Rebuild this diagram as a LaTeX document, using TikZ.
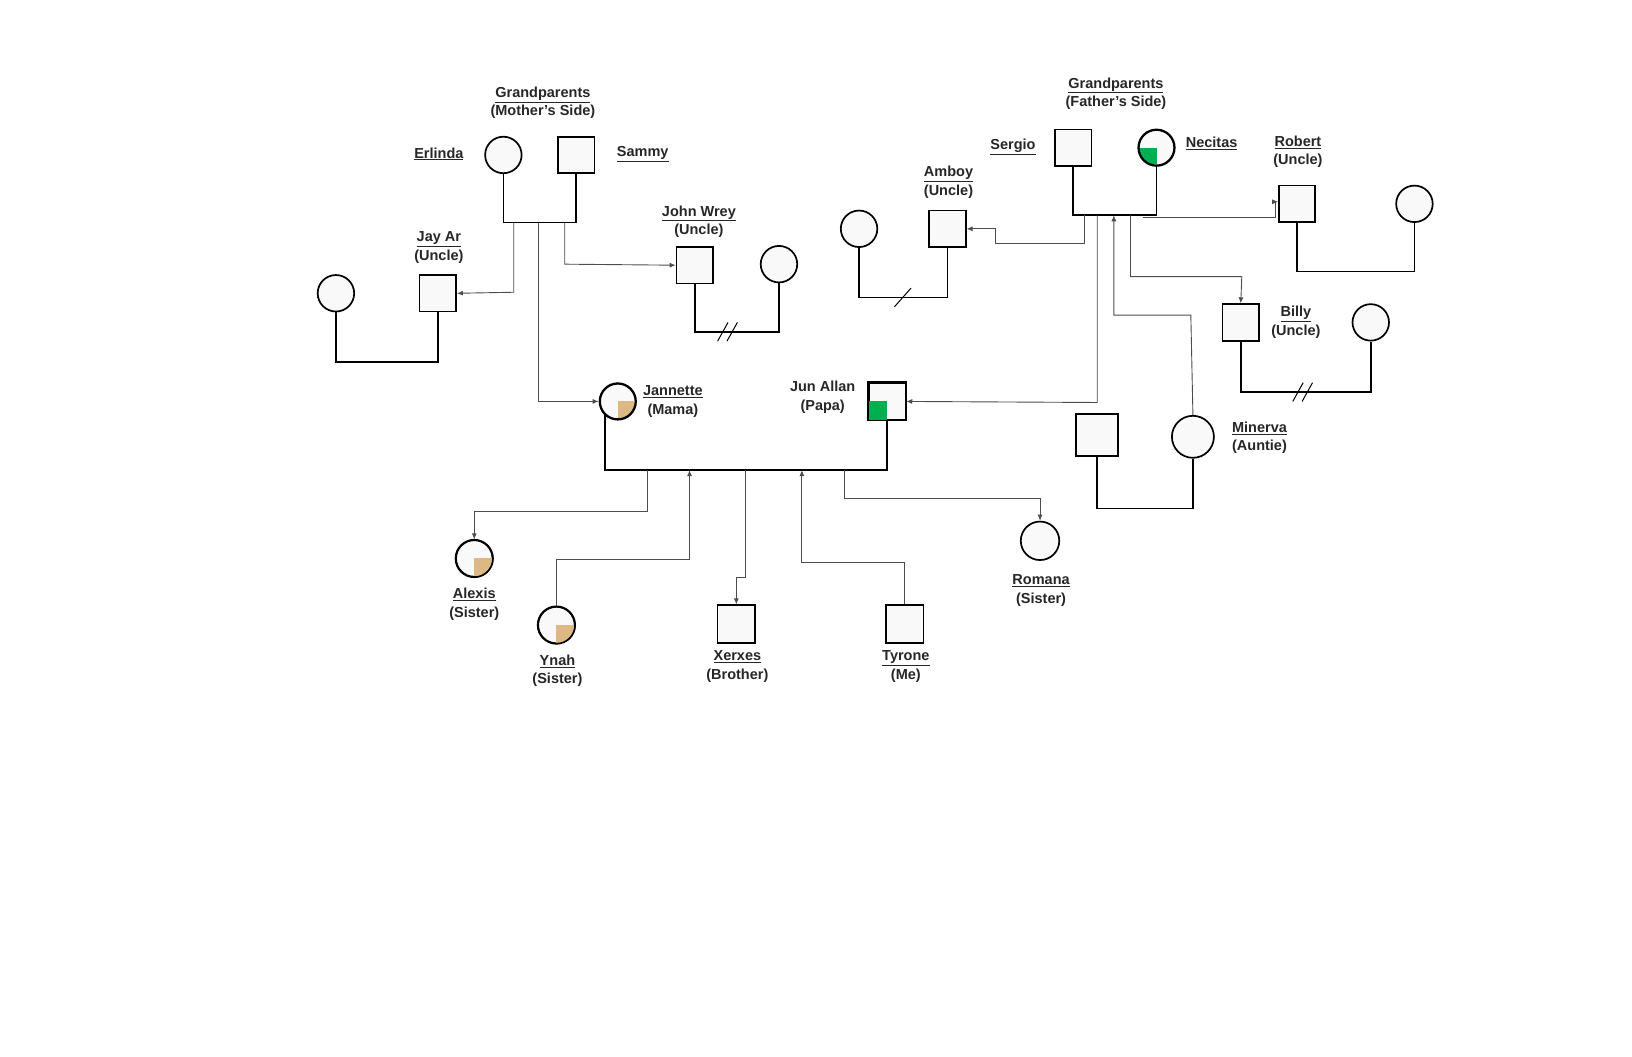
\documentclass[tikz,border=0pt]{standalone}
\usepackage{fontspec}
\setmainfont{Liberation Sans}
\usetikzlibrary{arrows.meta}
\definecolor{tan}{HTML}{DDB883}
\definecolor{grn}{HTML}{00B050}
\definecolor{fillg}{HTML}{F9F9F9}
\newcommand{\ul}[1]{\underline{#1}}
\begin{document}
\begin{tikzpicture}[x=1.04pt,y=-1.04pt,
  lbl/.style={font=\fontsize{14.5}{18.5}\selectfont\bfseries,align=center,text=black!85},
  m/.style={draw,line width=1.7pt,fill=fillg,minimum size=36.5pt,inner sep=0pt},
  f/.style={draw,line width=1.7pt,fill=fillg,circle,minimum size=36.5pt,inner sep=0pt},
  cp/.style={line width=1.7pt},
  cn/.style={draw=black!70,line width=0.9pt},
  ar/.style={cn,-{Latex[length=6pt,width=5pt]}}]
\useasboundingbox (0,0) rectangle (1569.2,1015.4);
% mother's side
\node[f] (erl) at (484,149) {};
\node[m] (sam) at (554,149) {};
\draw[cp] (erl.south) -- (484,214) -- (554,214) -- (sam.south);
\node[m] (jay) at (421,282) {};
\node[f] (jays) at (323,282) {};
\draw[cp] (jay.south) -- (421,348) -- (323,348) -- (jays.south);
\node[m] (john) at (668,255) {};
\node[f] (johns) at (749,254) {};
\draw[cp] (john.south) -- (668,319) -- (749,319) -- (johns.south);
\draw[line width=1pt] (690,328) -- (700,310) (699,328) -- (709,310);
% father's side
\node[m] (ser) at (1032,142) {};
\node[f] (nec) at (1112,142) {};
\draw[cp] (ser.south) -- (1032,207) -- (1112,207) -- (nec.south);
\node[m] (amb) at (911,220) {};
\node[f] (ambs) at (826,220) {};
\draw[cp] (amb.south) -- (911,286) -- (826,286) -- (ambs.south);
\draw[line width=1pt] (860,295) -- (876,277);
\node[m] (rob) at (1247,196) {};
\node[f] (robs) at (1360,196) {};
\draw[cp] (rob.south) -- (1247,261) -- (1360,261) -- (robs.south);
\node[m] (bil) at (1193,310) {};
\node[f] (bils) at (1318,310) {};
\draw[cp] (bil.south) -- (1193,377) -- (1318,377) -- (bils.south);
\draw[line width=1pt] (1243,386) -- (1253,368) (1252,386) -- (1262,368);
\node[m,minimum size=42pt] (minp) at (1055,418) {};
\node[f,minimum size=42pt] (min) at (1147,420) {};
\draw[cp] (minp.south) -- (1055,489) -- (1147,489) -- (min.south);
% parents
\node[f] (jan) at (594,386) {};
\node[m] (jun) at (853,386) {};
\begin{scope}
\clip (jan) circle (17);
\fill[tan] (jan.center) rectangle ++(16,16);
\end{scope}
\draw[line width=1.7pt] (jan) circle (17);
\fill[grn] (jun.south west) rectangle (jun.center);
\draw[line width=1.7pt] (jun.south west) rectangle (jun.north east);
\begin{scope}
\clip (nec) circle (17);
\fill[grn] (nec.center) rectangle ++(-16,16);
\end{scope}
\draw[line width=1.7pt] (nec) circle (17);
\draw[cp] (582,398) -- (582,452) -- (853,452) -- (jun.south);
% children
\node[f] (ale) at (456,537) {};
\node[f] (yna) at (535,601) {};
\begin{scope}
\clip (ale) circle (18);
\fill[tan] (ale.center) rectangle ++(17,17);
\end{scope}
\draw[line width=1.7pt] (ale) circle (18);
\begin{scope}
\clip (yna) circle (18);
\fill[tan] (yna.center) rectangle ++(17,17);
\end{scope}
\draw[line width=1.7pt] (yna) circle (18);
\node[m,minimum size=37.5pt] (xer) at (708,600) {};
\node[m,minimum size=37.5pt] (tyr) at (870,600) {};
\node[f,minimum size=38.5pt] (rom) at (1000,520) {};
% connectors mother's side
\draw[ar] (494,214) -- (494,281) -- (jay.east);
\draw[ar] (518,214) -- (518,386) -- (jan.west);
\draw[ar] (543,214) -- (543,254) -- (john.west);
% connectors father's side
\draw[ar] (1043,207) -- (1043,234) -- (957,234) -- (957,220) -- (amb.east);
\draw[ar] (1055,207) -- (1055,387) -- (jun.east);
\draw[ar] (min.north) -- (1145,303) -- (1071,303) -- (1071,207);
\draw[ar] (1087,207) -- (1087,266) -- (1194,266) -- (bil.north);
\draw[ar] (1099,209) -- (1226,209) -- (1226,194) -- (1229,194);
% connectors children
\draw[ar] (623,452) -- (623,492) -- (456,492) -- (ale.north);
\draw[ar] (yna.north) -- (535,538) -- (663,538) -- (663,452);
\draw[ar] (717,452) -- (717,555) -- (708,555) -- (xer.north);
\draw[ar] (tyr.north) -- (870,541) -- (771,541) -- (771,452);
\draw[ar] (812,452) -- (812,479) -- (1000,479) -- (rom.north);
% labels
\node[lbl] (l1) at (522,99) {\ul{Grandparents}\\(Mother's Side)};
\node[lbl] (l2) at (422,148) {\ul{Erlinda}};
\node[lbl] (l3) at (618,148) {\ul{Sammy}};
\node[lbl] (l4) at (422,238) {\ul{Jay Ar}\\(Uncle)};
\node[lbl] (l5) at (672,213) {\ul{John Wrey}\\(Uncle)};
\node[lbl] (l6) at (647,386) {\ul{Jannette}\\(Mama)};
\node[lbl] (l7) at (791,382) {Jun Allan\\(Papa)};
\node[lbl] (l8) at (1073,90) {\ul{Grandparents}\\(Father's Side)};
\node[lbl] (l9) at (974,141) {\ul{Sergio}};
\node[lbl] (l10) at (1165,138) {\ul{Necitas}};
\node[lbl] (l11) at (1248,146) {\ul{Robert}\\(Uncle)};
\node[lbl] (l12) at (912,175) {\ul{Amboy}\\(Uncle)};
\node[lbl] (l13) at (1246,310) {\ul{Billy}\\(Uncle)};
\node[lbl] (l14) at (1211,421) {\ul{Minerva}\\(Auntie)};
\node[lbl] (l15) at (456,581) {\ul{Alexis}\\(Sister)};
\node[lbl] (l16) at (536,645) {\ul{Ynah}\\(Sister)};
\node[lbl] (l17) at (709,641) {\ul{Xerxes}\\(Brother)};
\node[lbl] (l18) at (871,641) {\ul{Tyrone}\\(Me)};
\node[lbl] (l19) at (1001,568) {\ul{Romana}\\(Sister)};
\end{tikzpicture}
\end{document}
